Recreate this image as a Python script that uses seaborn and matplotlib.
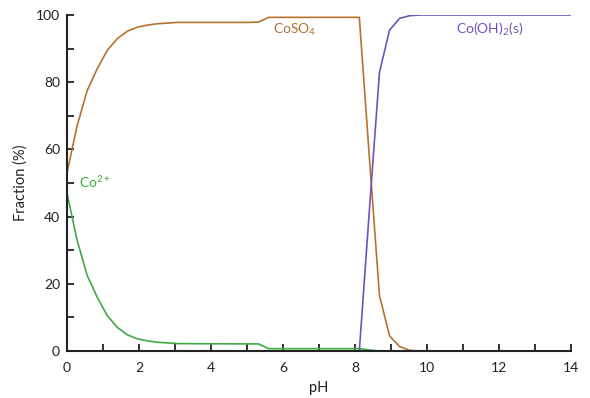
import matplotlib
matplotlib.use("Agg")
import matplotlib.pyplot as plt
from matplotlib.ticker import MultipleLocator
import pandas as pd
import seaborn as sns

# ---------------------------------------------------------------------------
# data
# ---------------------------------------------------------------------------
PH_COSO4 = [0, 0.28, 0.56, 0.84, 1.12, 1.40, 1.68, 1.96, 2.24, 2.52, 2.80, 3.08,
            5.04, 5.32, 5.60, 8.12, 8.40, 8.68, 8.96, 9.24, 9.52, 9.80]
FRAC_COSO4 = [53, 67, 77.5, 84, 89.5, 93, 95.2, 96.4, 97, 97.4, 97.6, 97.8,
              97.8, 97.9, 99.3, 99.3, 57.5, 16.5, 4.5, 1.3, 0.2, 0]

PH_CO2 = [0, 0.28, 0.56, 0.84, 1.12, 1.40, 1.68, 1.96, 2.24, 2.52, 2.80, 3.08,
          5.32, 5.60, 8.12, 8.40, 8.68]
FRAC_CO2 = [47, 33, 22.5, 16, 10.5, 7, 4.8, 3.6, 3, 2.6, 2.4, 2.2,
            2.1, 0.7, 0.7, 0.3, 0]

PH_COOH = [8.12, 8.40, 8.68, 8.96, 9.24, 9.52, 9.80, 14]
FRAC_COOH = [0, 42, 83, 95.5, 99, 99.8, 100, 100]

SPECIES = ["CoSO4", "Co2+", "Co(OH)2"]
PALETTE = {
    "CoSO4": "#B5732E",
    "Co2+": "#3DAA44",
    "Co(OH)2": "#7152BA",
}

df = pd.concat([
    pd.DataFrame({"pH": PH_COSO4, "frac": FRAC_COSO4, "species": "CoSO4"}),
    pd.DataFrame({"pH": PH_CO2, "frac": FRAC_CO2, "species": "Co2+"}),
    pd.DataFrame({"pH": PH_COOH, "frac": FRAC_COOH, "species": "Co(OH)2"}),
], ignore_index=True)

# ---------------------------------------------------------------------------
# style
# ---------------------------------------------------------------------------
sns.set_style("white")
plt.rcParams["font.family"] = ["Lato", "DejaVu Sans"]
plt.rcParams["mathtext.fontset"] = "custom"
plt.rcParams["mathtext.rm"] = "Lato"
plt.rcParams["mathtext.it"] = "Lato"
plt.rcParams["mathtext.bf"] = "Lato:bold"

fig = plt.figure(figsize=(5.9, 3.98), dpi=100)
ax = fig.add_axes([67 / 590, 1 - 351 / 398, 504 / 590, 336 / 398])

sns.lineplot(data=df, x="pH", y="frac", hue="species", hue_order=SPECIES,
             palette=PALETTE, linewidth=1.2, legend=False, ax=ax,
             estimator=None, sort=False)

ax.set_xlim(0, 14)
ax.set_ylim(0, 100)
ax.xaxis.set_major_locator(MultipleLocator(2))
ax.xaxis.set_minor_locator(MultipleLocator(1))
ax.yaxis.set_major_locator(MultipleLocator(20))
ax.yaxis.set_minor_locator(MultipleLocator(10))
ax.tick_params(which="both", direction="in", length=5, width=1.3,
               color="#222222", labelsize=10, labelcolor="#222222")
ax.tick_params(axis="x", which="both", top=False, bottom=True, pad=8)
ax.tick_params(axis="y", which="both", right=False, left=True, pad=5)

sns.despine(ax=ax)
for side in ["left", "bottom"]:
    ax.spines[side].set_linewidth(1.5)
    ax.spines[side].set_color("#222222")
    ax.spines[side].set_zorder(5)

ax.set_xlabel("pH", fontsize=10.5, color="#222222", labelpad=5)
ax.set_ylabel("Fraction (%)", fontsize=10.5, color="#222222", labelpad=6)

# species labels
ax.text(5.72, 94.5, "CoSO$_4$", color=PALETTE["CoSO4"], fontsize=10)
ax.text(0.33, 48.5, "Co$^{2+}$", color=PALETTE["Co2+"], fontsize=10)
ax.text(10.8, 94.5, "Co(OH)$_2$(s)", color=PALETTE["Co(OH)2"], fontsize=10)

fig.savefig("out.png", dpi=100)
